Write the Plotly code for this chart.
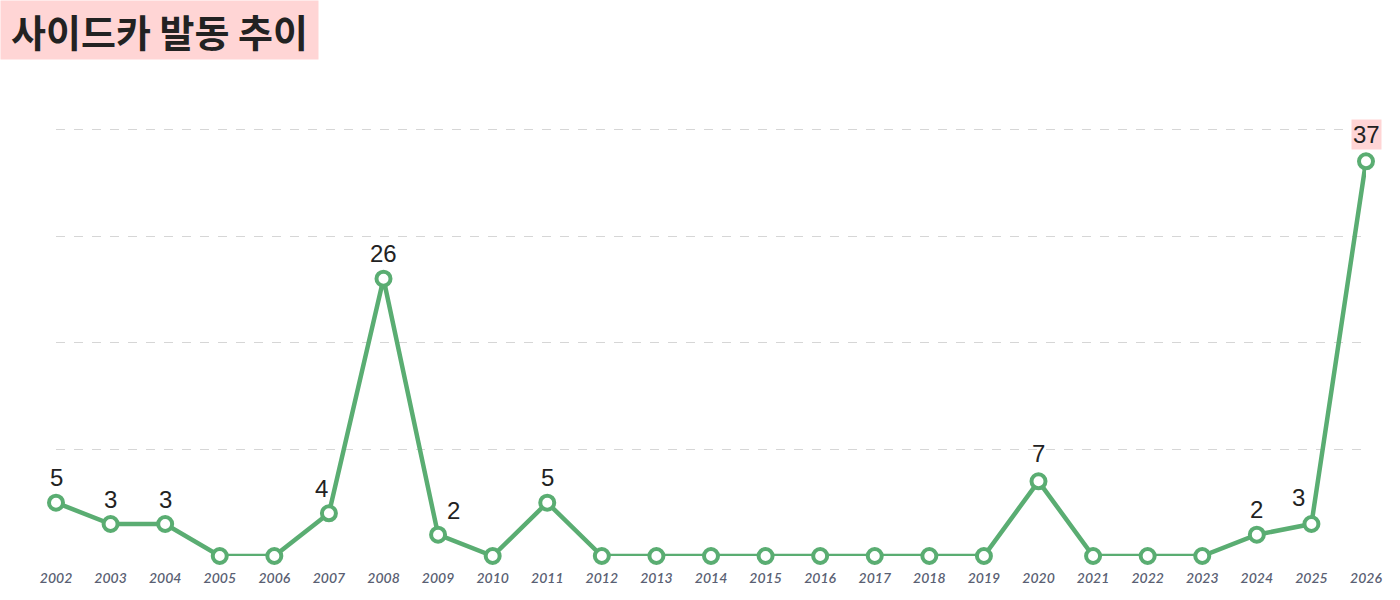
import plotly.graph_objects as go

years = list(range(2002, 2027))
counts = [5, 3, 3, 0, 0, 4, 26, 2, 0, 5, 0, 0, 0, 0, 0, 0, 0, 0, 7, 0, 0, 0, 2, 3, 37]
labeled_years = [2002, 2003, 2004, 2007, 2008, 2009, 2011, 2020, 2024, 2025, 2026]
title_text = "사이드카 발동 추이"

GREEN = "#5aad72"

# label offsets (pixels) per labeled year: (xshift, yshift)
offsets = {2007: (-7, 25), 2009: (15, 24), 2020: (0, 28), 2025: (-13, 27)}

fig = go.Figure()
fig.add_trace(go.Scatter(
    x=years, y=counts, mode="lines+markers",
    line=dict(color=GREEN, width=4.5),
    marker=dict(size=14, color="white", line=dict(color=GREEN, width=4)),
    cliponaxis=False, hoverinfo="x+y",
))

annotations = []
for yr in labeled_years:
    v = counts[years.index(yr)]
    xs, ys = offsets.get(yr, (0, 25))
    a = dict(x=yr, y=v, xref="x", yref="y", text=str(v), showarrow=False,
             xshift=xs, yshift=ys, yanchor="middle",
             font=dict(family="Liberation Sans, Arial", size=24, color="#222222"))
    if yr == 2026:
        a.update(bgcolor="#ffd5d5", borderpad=1, yshift=27)
    annotations.append(a)

annotations.append(dict(
    xref="paper", yref="paper", x=0, y=1, xanchor="left", yanchor="top",
    xshift=-56, yshift=76, text=title_text, showarrow=False,
    bgcolor="#ffd5d5", borderpad=3, width=311, height=52, align="center",
    font=dict(family="Noto Sans CJK KR", size=38, color="#222222", weight=700),
))

fig.update_layout(
    width=1400, height=600,
    margin=dict(l=56, r=34, t=76, b=44),
    paper_bgcolor="white", plot_bgcolor="white",
    showlegend=False,
    annotations=annotations,
    xaxis=dict(range=[2002, 2026], tickvals=years, ticktext=[str(y) for y in years],
               showgrid=False, zeroline=False, showline=False,
               ticks="", ticklabelstandoff=12,
               tickfont=dict(family="Lato", size=14, color="#5a5f73", style="italic", weight=600)),
    yaxis=dict(range=[0, 45], tickvals=[10, 20, 30, 40], showticklabels=False,
               showgrid=True, gridcolor="#d6d6d6", griddash="dash", gridwidth=1,
               zeroline=False, showline=False),
)

fig.write_html("out.html", config={"displayModeBar": False},
               post_script="document.body.style.margin='0';")
